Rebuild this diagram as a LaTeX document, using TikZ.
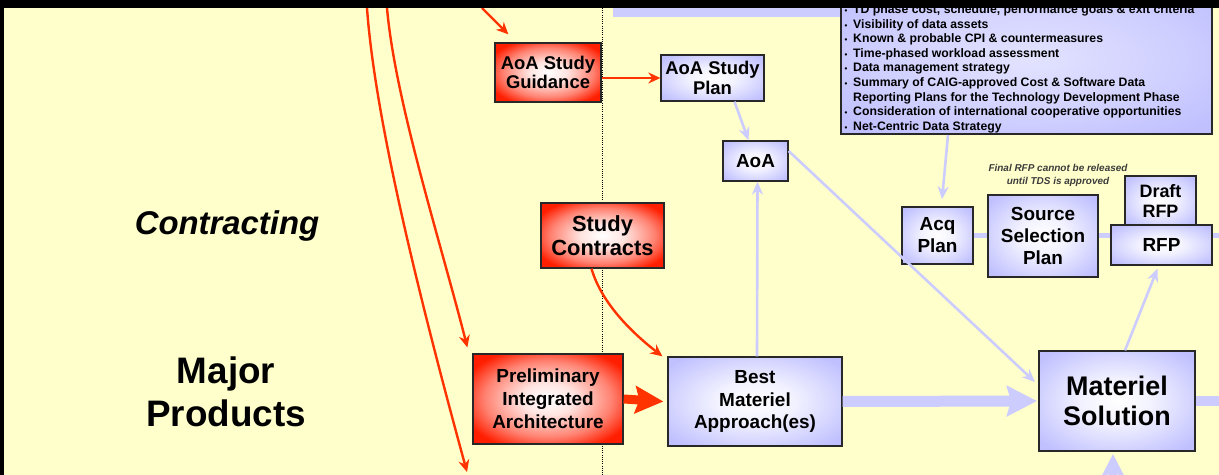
\documentclass[tikz,border=0pt]{standalone}
\usepackage{fontspec}
\setmainfont{Liberation Sans}
\usetikzlibrary{arrows.meta}
\definecolor{bg}{RGB}{255,255,204}
\definecolor{redc}{RGB}{255,51,0}
\definecolor{redbox}{RGB}{255,30,0}
\definecolor{bluebox}{RGB}{192,192,255}
\definecolor{bluel}{RGB}{204,204,255}
\definecolor{edgec}{RGB}{40,40,40}
\definecolor{notec}{RGB}{60,60,60}
\pgfdeclareradialshading{redsh}{\pgfpoint{0bp}{0bp}}{color(0bp)=(white); color(9bp)=(redbox!12!white); color(21bp)=(redbox!55!white); color(30bp)=(redbox); color(50bp)=(redbox)}
\pgfdeclareradialshading{bluesh}{\pgfpoint{0bp}{0bp}}{color(0bp)=(white); color(11bp)=(bluebox!20!white); color(24bp)=(bluebox!70!white); color(32bp)=(bluebox); color(50bp)=(bluebox)}
\pgfdeclareradialshading{bulsh}{\pgfpoint{0bp}{0bp}}{color(0bp)=(bluebox!45!white); color(20bp)=(bluebox!75!white); color(32bp)=(bluebox); color(50bp)=(bluebox)}
\newcommand{\fsz}[2]{\fontsize{#1}{#2}\selectfont}
\begin{document}
\begin{tikzpicture}[x=1bp,y=-1bp,
  rbox/.style={draw=edgec, line width=1.3bp, shading=redsh, align=center, inner sep=0pt},
  bbox/.style={draw=edgec, line width=1.3bp, shading=bluesh, align=center, inner sep=0pt},
  redarrow/.style={draw=redc, line width=2.4bp, -{Stealth[length=12bp,width=11bp]}},
  bluearrow/.style={draw=bluel, line width=2.6bp, -{Stealth[length=13bp,width=11bp]}},
  bultext/.style={anchor=base west, inner sep=0pt, font=\fsz{12.3}{14}\bfseries},
  bulmark/.style={anchor=base, inner sep=0pt, font=\fsz{8}{8}\bfseries}
]
\useasboundingbox (0,0) rectangle (1219,475);
\clip (0,0) rectangle (1219,475);
\fill[bg] (0,0) rectangle (1219,475);
% dotted divider
\draw[black, line width=0.8bp, dash pattern=on 1bp off 1.2bp] (602,8) -- (602,475);
% top blue bar
\fill[bluel] (613,8) rectangle (841,17);

% left labels
\node[font=\fsz{33}{40}\bfseries\itshape] (con) at (227,226) {Contracting};
\node[font=\fsz{37}{43}\bfseries, align=center] (maj) at (226,392) {Major\\Products};

% free ends
\coordinate (redge) at (1225,235.5);
\coordinate (medge) at (1225,401);
\coordinate (bedge) at (1113,500);

% boxes
\node[bbox, shading=bulsh, line width=2bp, minimum width=371bp, minimum height=150bp] (bul) at (1026.5,59) {};
\node[rbox, minimum width=106bp, minimum height=59bp, font=\fsz{18.5}{19.5}\bfseries] (gui) at (548,72.5) {AoA Study\\Guidance};
\node[rbox, minimum width=123bp, minimum height=65bp, font=\fsz{22}{24}\bfseries] (sc) at (602.5,235.5) {Study\\Contracts};
\node[rbox, minimum width=150bp, minimum height=90bp, font=\fsz{19}{23}\bfseries] (pia) at (548,399) {Preliminary\\Integrated\\Architecture};
\node[bbox, minimum width=103bp, minimum height=46bp, font=\fsz{18.5}{20}\bfseries] (plan) at (712.5,78) {AoA Study\\Plan};
\node[bbox, minimum width=65bp, minimum height=40bp, font=\fsz{19}{22}\bfseries] (aoa) at (755.5,161) {AoA};
\node[bbox, minimum width=71bp, minimum height=57bp, font=\fsz{19}{22}\bfseries] (acq) at (937.5,235.5) {Acq\\Plan};

\draw[bluel, line width=5bp] (acq.east) -- (redge);

\node[bbox, minimum width=110bp, minimum height=82bp, font=\fsz{19}{22.5}\bfseries] (ssp) at (1043,236) {Source\\Selection\\Plan};
\node[bbox, minimum width=71bp, minimum height=50bp, font=\fsz{18}{20}\bfseries] (draft) at (1160.5,201) {Draft\\RFP};
\node[bbox, minimum width=101bp, minimum height=40bp, font=\fsz{19}{22}\bfseries] (rfp) at (1161.5,245) {RFP};
\node[bbox, minimum width=174bp, minimum height=89bp, font=\fsz{19}{23}\bfseries] (bma) at (755,401.5) {Best\\Materiel\\Approach(es)};

% blue connectors
\draw[bluearrow] ([xshift=22bp]plan.south) -- ([xshift=-7bp]aoa.north);
\draw[bluearrow] ([xshift=2bp]bma.north) -- ([xshift=2bp]aoa.south);
\draw[bluearrow] ([yshift=10bp]aoa.east) -- ([xshift=-4bp,yshift=19bp]1039,401);
\draw[bluearrow] ([xshift=108bp]bul.south west) -- ([xshift=4.5bp,yshift=7bp]acq.north);
\draw[bluel, line width=11bp, -{Stealth[length=30bp,width=30bp,inset=4bp]}] (bma.east) -- ([xshift=-2bp]1039,401);
\draw[bluel, line width=10bp] (1195,401) -- (medge);
\draw[bluel, line width=8bp, -{Stealth[length=22bp,width=22bp,inset=3bp]}] (bedge) -- (1113,454);

\node[bbox, minimum width=156bp, minimum height=100bp, font=\fsz{27}{30}\bfseries] (ms) at (1117,401) {Materiel\\Solution};
\draw[bluearrow] ([xshift=8bp]ms.north) -- ([xshift=-4bp,yshift=-3bp]rfp.south);

% note
\node[font=\fsz{10}{13}\bfseries\itshape, text=notec, align=center] (note) at (1058,175.5) {Final RFP cannot be released\\until TDS is approved};

% bullet list
\foreach \t [count=\i] in {
  {TD phase cost, schedule, performance goals \& exit criteria},
  {Visibility of data assets},
  {Known \& probable CPI \& countermeasures},
  {Time-phased workload assessment},
  {Data management strategy},
  {Summary of CAIG-approved Cost \& Software Data},
  {Reporting Plans for the Technology Development Phase},
  {Consideration of international cooperative opportunities},
  {Net-Centric Data Strategy}}
{
  \node[bultext] (bl\i) at (853,{13.5+14.6*(\i-1)}) {\t};
}
\foreach \i in {1,2,3,4,5,6,8,9}{
  \node[bulmark] (bm\i) at (846,{13.5+14.6*(\i-1)}) {•};
}

% red connectors
\coordinate (r1s) at (367,8);
\coordinate (r1e) at (467,472);
\coordinate (r2s) at (387,8);
\coordinate (r3s) at (482,8);
\draw[redarrow] (r1s) .. controls (375,120) and (420,300) .. (r1e);
\draw[redarrow] (r2s) .. controls (395,100) and (440,240) .. ([xshift=-5bp,yshift=6bp]pia.north west);
\draw[redarrow] (r3s) -- ([xshift=14bp,yshift=8bp]gui.north west);
\draw[redarrow] (gui.east |- plan.west) -- (plan.west);
\draw[redarrow] ([xshift=-11bp]sc.south) .. controls (602,305) and (635,335) .. ([xshift=-5bp]bma.north west);
\draw[redc, line width=9bp, -{Stealth[length=28bp,width=27bp,inset=4bp]}] (pia.east) -- ([xshift=-4bp]bma.west);

% frame
\fill[black] (0,0) rectangle (1219,8);
\fill[black] (0,0) rectangle (4,475);
\end{tikzpicture}
\end{document}
